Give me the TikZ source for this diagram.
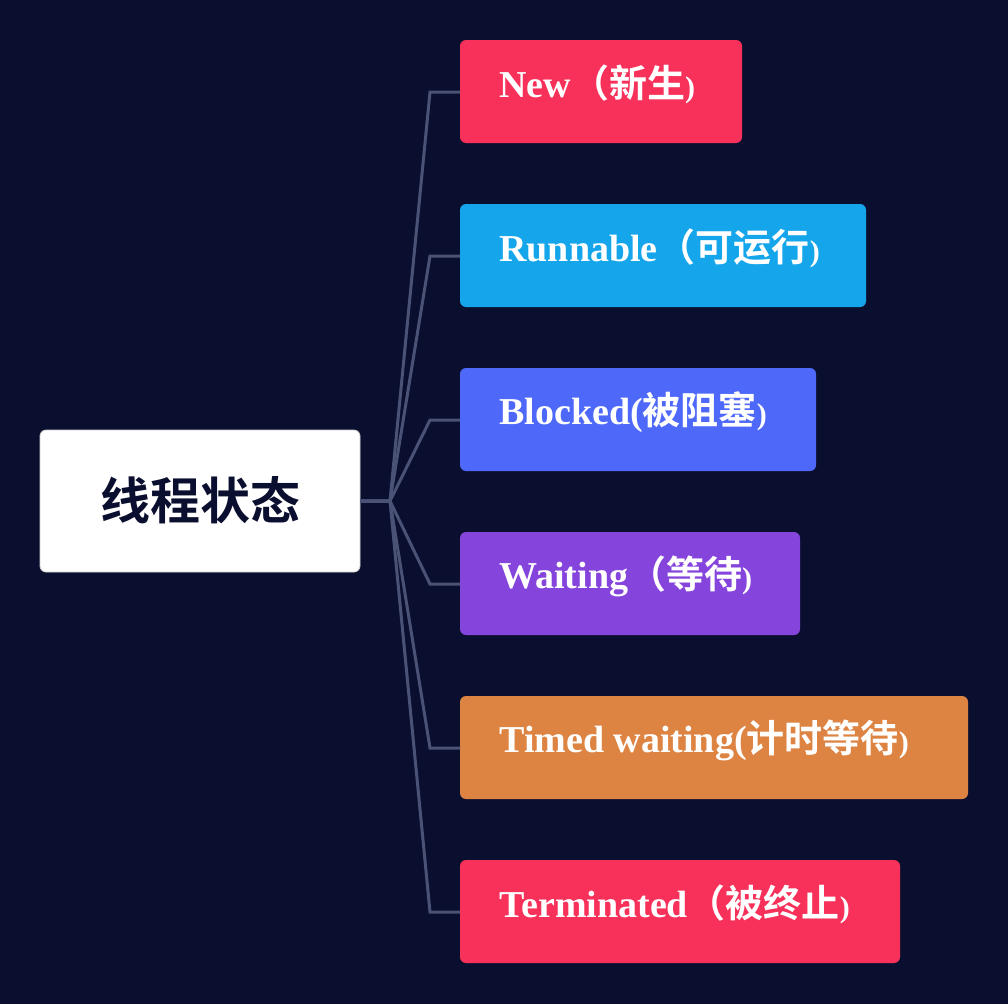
\documentclass[tikz,border=0pt]{standalone}
\usepackage{fontspec}
\setmainfont{Liberation Serif}
\newfontfamily\cjk{Noto Sans CJK SC}[BoldFont=* Bold]
\definecolor{bg}{HTML}{0B0F2F}
\definecolor{wire}{HTML}{4A5275}
\definecolor{cred}{HTML}{F73159}
\definecolor{cblue}{HTML}{14A5EB}
\definecolor{cindigo}{HTML}{4E69FA}
\definecolor{cpurple}{HTML}{8544DC}
\definecolor{corange}{HTML}{DE8443}
\begin{document}
\begin{tikzpicture}[x=1pt,y=-1pt,thick]
        \fill[bg] (0,0) rectangle (1008,1004);
        \useasboundingbox (0,0) rectangle (1008,1004);
        \tikzset{state/.style={rounded corners=6pt},
                 label/.style={anchor=west,text=white,inner sep=0pt,
                        font=\fontsize{38}{40}\selectfont\bfseries}}

        \draw[state,fill=white,draw=gray!40] (40,430) rectangle (360,572);
        \node (root) at (200,500) [font=\fontsize{50}{52}\selectfont\cjk\bfseries,text=bg]{线程状态};
        \coordinate (rootout) at (360,501);
        \coordinate (hub) at (390,501);

        \fill[state,cred] (460,40) rectangle (742,143);
        \fill[state,cblue] (460,204) rectangle (866,307);
        \fill[state,cindigo] (460,368) rectangle (816,471);
        \fill[state,cpurple] (460,532) rectangle (800,635);
        \fill[state,corange] (460,696) rectangle (968,799);
        \fill[state,cred] (460,860) rectangle (900,963);

        \begin{scope}[every node/.style={label}]
            \node (new) at (499,84) {New{\cjk（新生}{\fontsize{30}{30}\selectfont)}};
            \node (runnable) at (499,248) {Runnable{\cjk（可运行}{\fontsize{30}{30}\selectfont)}};
            \node (blocked) at (499,412) {Blocked({\cjk 被阻塞}{\fontsize{30}{30}\selectfont)}};
            \node (waiting) at (499,576) {Waiting{\cjk（等待}{\fontsize{30}{30}\selectfont)}};
            \node (timed) at (499,740) {Timed waiting({\cjk 计时等待}{\fontsize{30}{30}\selectfont)}};
            \node (terminated) at (499,904) {Terminated{\cjk（被终止}{\fontsize{30}{30}\selectfont)}};
        \end{scope}

        \foreach \y/\n in {92/new,256/runnable,420/blocked,584/waiting,748/timed,912/terminated}
            \draw[wire,line width=3pt] (rootout) -- (hub) -- (430,\y) -- (460,\y);
    \end{tikzpicture}
\end{document}
